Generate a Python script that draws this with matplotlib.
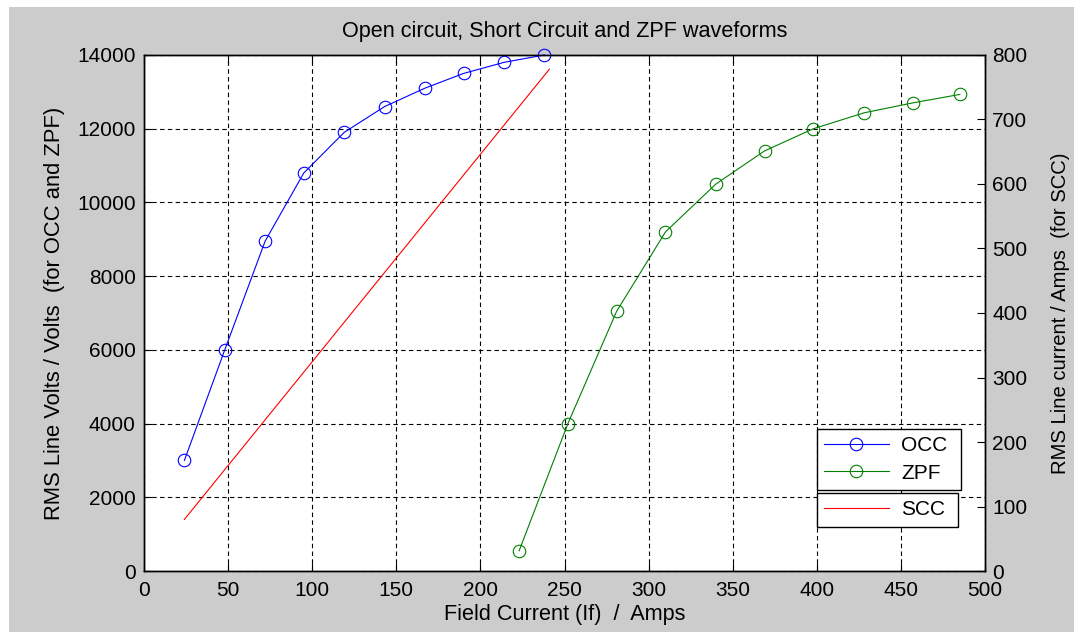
import numpy as np
import matplotlib.pyplot as plt
from matplotlib.patches import Rectangle

plt.rcParams['font.family'] = ['Liberation Sans', 'DejaVu Sans']
plt.rcParams['font.size'] = 15

# open circuit test: field current (A) / line volts
if_occ = [24, 48, 72, 95, 119, 143, 167, 190, 214, 238]
v_occ = [3000, 6000, 8950, 10800, 11900, 12600, 13100, 13500, 13800, 14000]

# zero power factor test
if_zpf = [223, 252, 281, 310, 340, 369, 398, 428, 457, 485]
v_zpf = [550, 4000, 7050, 9200, 10500, 11400, 12000, 12430, 12700, 12930]

# short circuit test: line current (A)
if_scc = [24, 241]
i_scc = [80, 778]

x_ticks = np.arange(0, 501, 50)
v_ticks = np.arange(0, 14001, 2000)
i_ticks = np.arange(0, 801, 100)

green = (0, 0.5, 0)

fig = plt.figure(figsize=(10.74, 6.32), dpi=100)
fig.patch.set_facecolor('#cccccc')
# white strip left and top like the screenshot
fig.add_artist(Rectangle((0, 0), 9 / 1074, 1, transform=fig.transFigure,
                         facecolor='white', edgecolor='none', zorder=-10))
fig.add_artist(Rectangle((0, 1 - 7 / 632), 1, 7 / 632, transform=fig.transFigure,
                         facecolor='white', edgecolor='none', zorder=-10))

ax1 = fig.add_axes([0.1341, 0.0965, 0.7831, 0.8165])
ax2 = ax1.twinx()

ax1.plot(if_occ, v_occ, 'o-', color='b', mfc='none', ms=9, lw=0.8, mew=0.8,
         label='OCC', clip_on=False, zorder=3)
ax1.plot(if_zpf, v_zpf, 'o-', color=green, mfc='none', ms=9, lw=0.8, mew=0.8,
         label='ZPF', clip_on=False, zorder=3)
ax2.plot(if_scc, i_scc, '-', color='r', lw=0.8, label='SCC')

ax1.set_xlim(0, 500)
ax1.set_ylim(0, 14000)
ax2.set_ylim(0, 800)
ax1.set_xticks(x_ticks)
ax1.set_yticks(v_ticks)
ax2.set_yticks(i_ticks)

ax1.grid(True, color='k', linestyle=(0, (4, 3)), linewidth=0.8)
ax1.tick_params(direction='in', length=6, width=0.8, top=True, pad=6)
ax1.tick_params(axis='x', pad=7)
ax2.tick_params(direction='in', length=6, width=0.8, pad=5)
for ax in (ax1, ax2):
    for s in ax.spines.values():
        s.set_linewidth(1.0)
        s.set_color('k')

ax1.text(0.5, 1.045, 'Open circuit, Short Circuit and ZPF waveforms',
         transform=ax1.transAxes, ha='center', va='center', fontsize=15.6)
ax1.set_xlabel('Field Current (If)  /  Amps', fontsize=15.6)
ax1.xaxis.set_label_coords(0.5, -0.064)
ax1.set_ylabel('RMS Line Volts / Volts  (for OCC and ZPF)', fontsize=15.8)
ax1.yaxis.set_label_coords(-0.0945, 0.5)
ax2.set_ylabel('RMS Line current / Amps  (for SCC)', fontsize=14.6)
ax2.yaxis.set_label_coords(1.078, 0.5)

leg_kw = dict(loc='upper left', mode='expand', fancybox=False, framealpha=1,
              edgecolor='k', handlelength=3.1, handletextpad=0.6,
              borderaxespad=0, borderpad=0.35, labelspacing=0.4)
leg1 = ax1.legend(bbox_to_anchor=(0.8, 0.1506, 0.171, 0.1244), **leg_kw)
leg2 = ax2.legend(bbox_to_anchor=(0.8, 0.0808, 0.1675, 0.07), **leg_kw)
leg1.get_frame().set_linewidth(1.0)
leg2.get_frame().set_linewidth(1.0)
leg1.set_zorder(5)

fig.savefig('out.png', dpi=100, facecolor=fig.get_facecolor())
